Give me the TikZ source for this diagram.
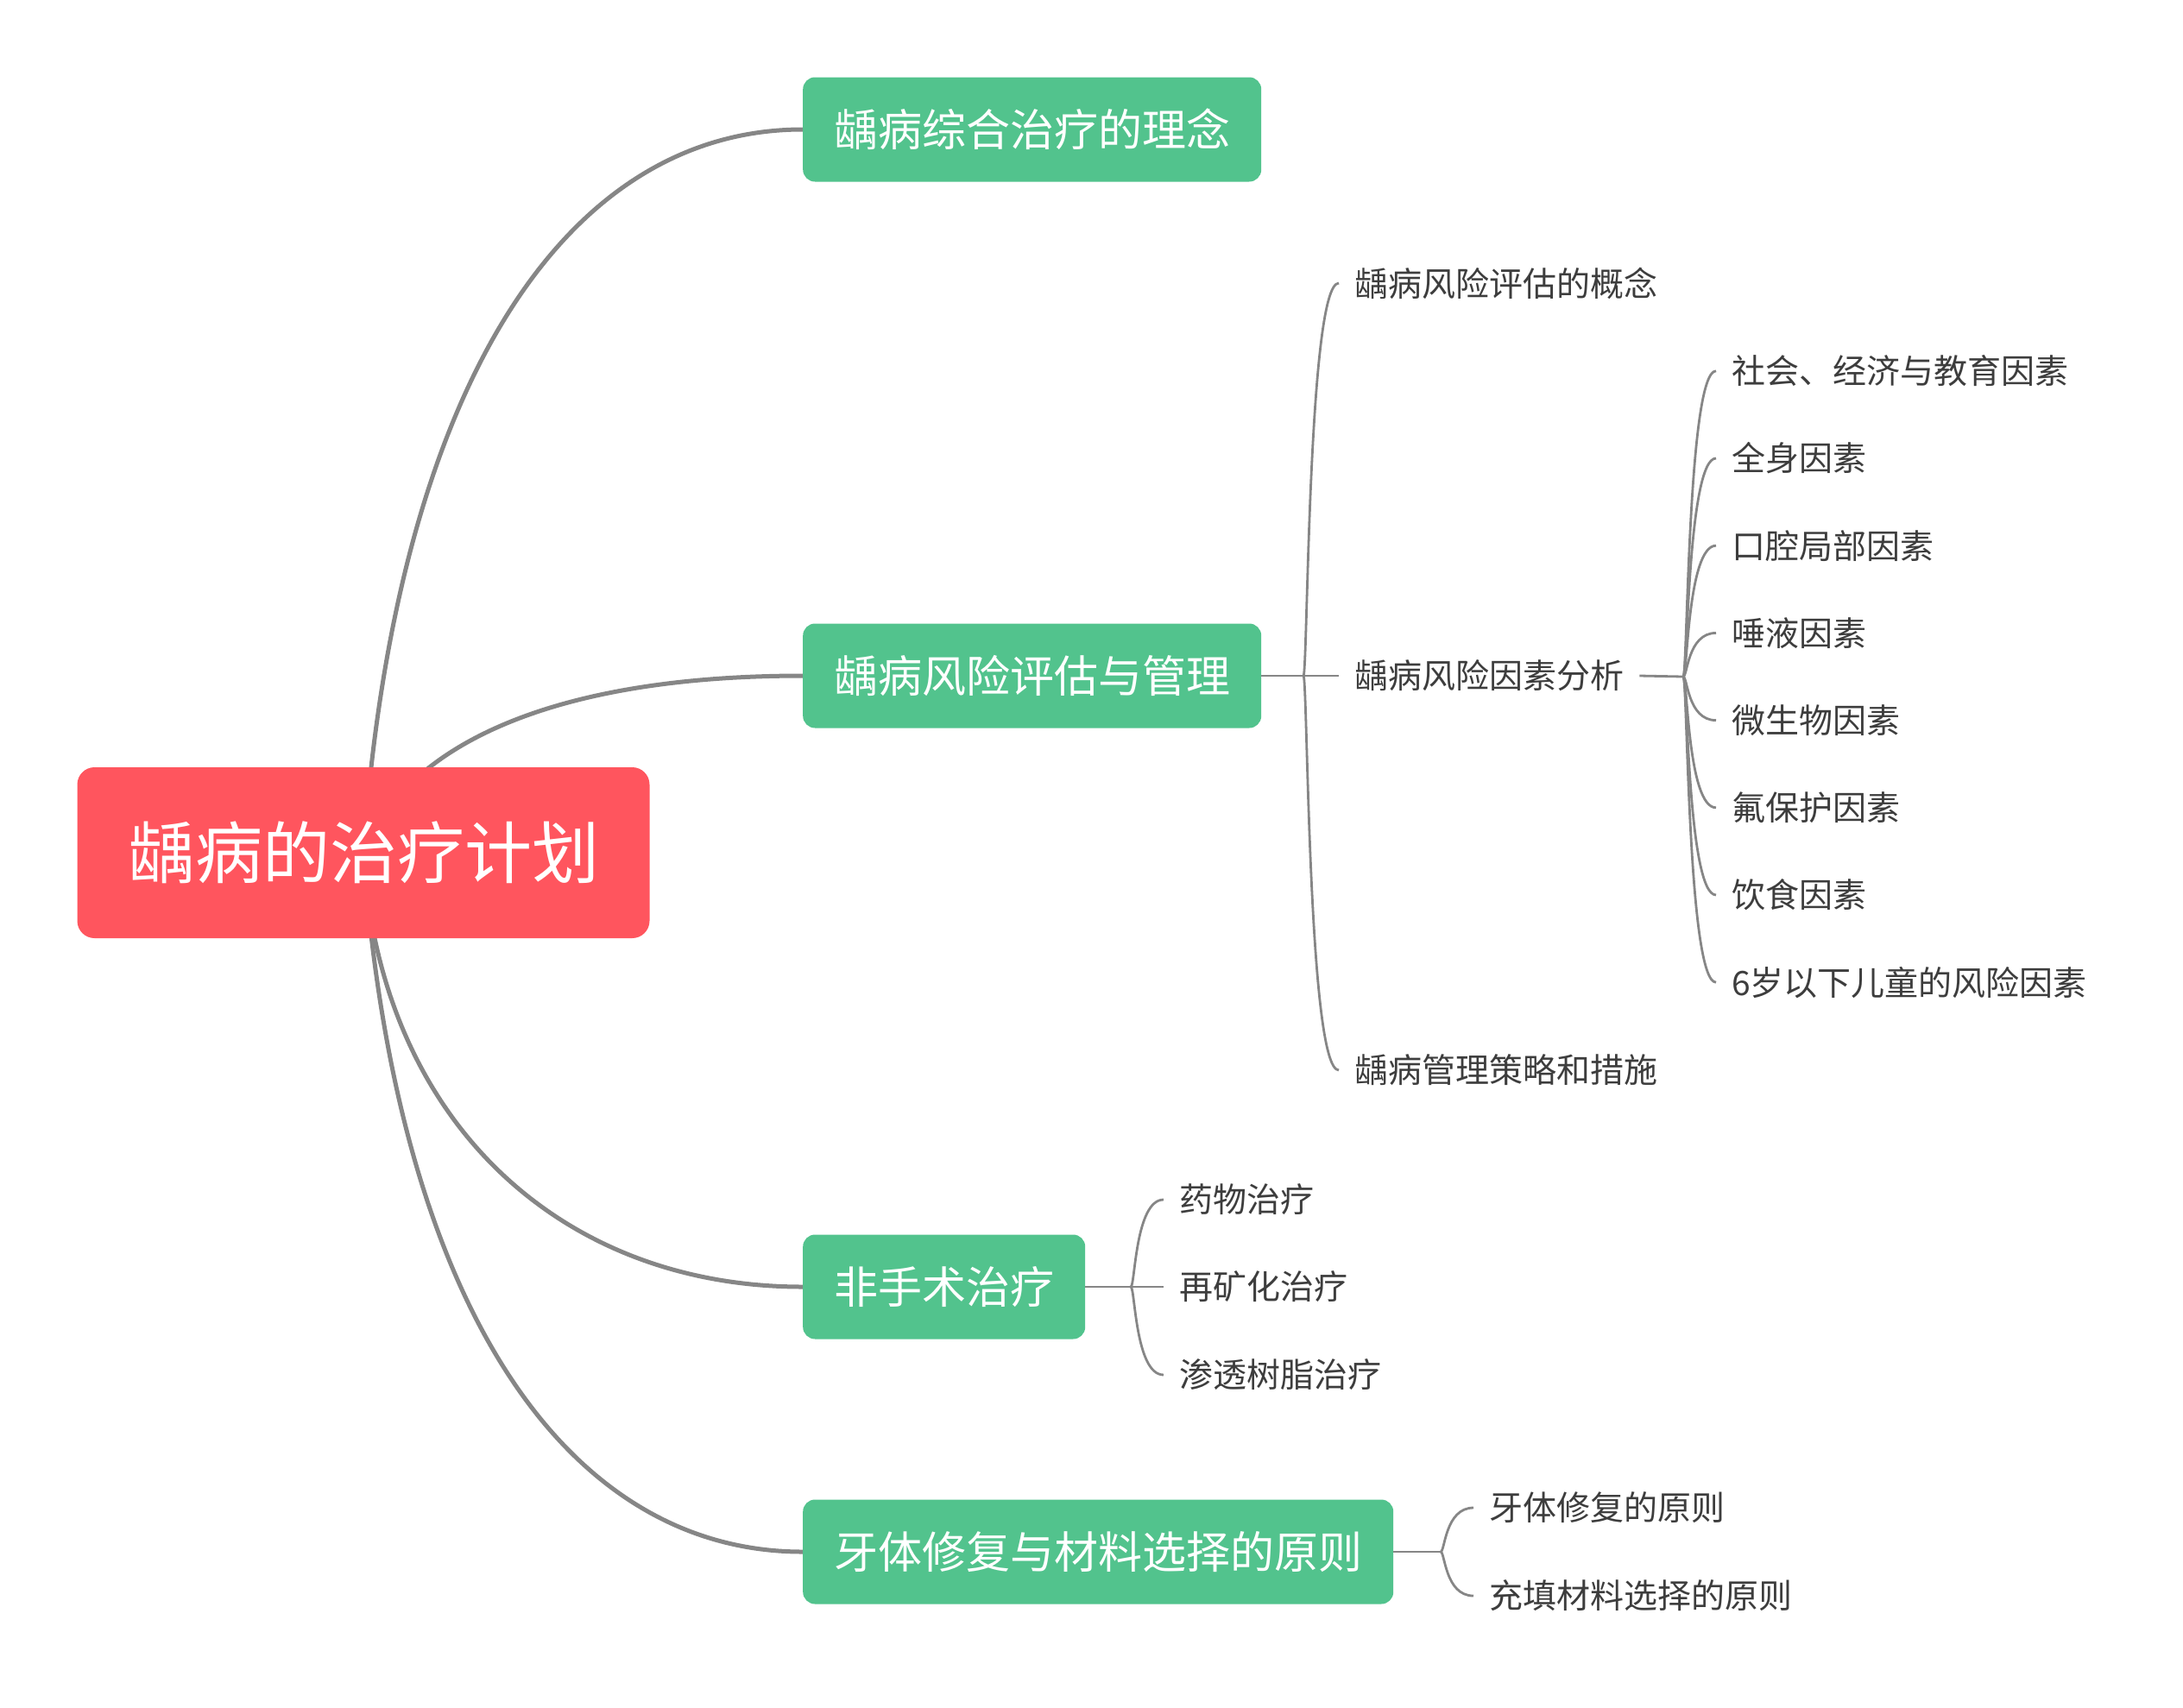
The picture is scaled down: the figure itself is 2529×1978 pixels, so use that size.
\documentclass[tikz,border=0pt]{standalone}
\usepackage{fontspec}
\setmainfont{Noto Sans CJK SC}
\usetikzlibrary{calc}
\definecolor{rootred}{HTML}{FF555E}
\definecolor{boxgreen}{HTML}{52C38D}
\definecolor{linegray}{HTML}{868686}
\definecolor{leaftext}{HTML}{3D3D3D}
\pgfdeclarelayer{bg}
\pgfsetlayers{bg,main}
\begin{document}
\begin{tikzpicture}[x=1pt,y=-1pt,
  rootbox/.style={fill=rootred, rounded corners=20pt, text=white, font=\fontsize{78}{94}\selectfont, minimum width=663pt, minimum height=198pt, inner sep=0pt},
  topicbox/.style={fill=boxgreen, rounded corners=14pt, text=white, font=\fontsize{51}{61}\selectfont, inner xsep=36pt, inner ysep=0pt, minimum height=121pt, anchor=west},
  leaf/.style={text=leaftext, font=\fontsize{39}{47}\selectfont, inner xsep=18pt, inner ysep=4pt, anchor=west},
  mainline/.style={draw=linegray, line width=5pt},
  subline/.style={draw=linegray, line width=2.8pt}
]
\useasboundingbox (0,0) rectangle (2529,1978);

% root and main topics
\node[rootbox] (root) at (421,988) {龋病的治疗计划};
\node[topicbox] (t1) at (930,150) {龋病综合治疗的理念};
\node[topicbox] (t2) at (930,783) {龋病风险评估与管理};
\node[topicbox] (t3) at (930,1491) {非手术治疗};
\node[topicbox] (t4) at (930,1798) {牙体修复与材料选择的原则};

% children of t2
\node[leaf] (l21) at (1551,328) {龋病风险评估的概念};
\node[leaf] (l22) at (1551,783) {龋病风险因素分析};
\node[leaf] (l23) at (1551,1240) {龋病管理策略和措施};

% children of l22
\node[leaf] (f1) at (1988,429.8) {社会、经济与教育因素};
\node[leaf] (f2) at (1988,531) {全身因素};
\node[leaf] (f3) at (1988,632.2) {口腔局部因素};
\node[leaf] (f4) at (1988,733.4) {唾液因素};
\node[leaf] (f5) at (1988,834.6) {微生物因素};
\node[leaf] (f6) at (1988,935.8) {氟保护因素};
\node[leaf] (f7) at (1988,1037) {饮食因素};
\node[leaf] (f8) at (1988,1138.2) {6岁以下儿童的风险因素};

% children of t3
\node[leaf] (l31) at (1348,1390) {药物治疗};
\node[leaf] (l32) at (1348,1491) {再矿化治疗};
\node[leaf] (l33) at (1348,1593) {渗透树脂治疗};

% children of t4
\node[leaf] (l41) at (1707,1747) {牙体修复的原则};
\node[leaf] (l42) at (1707,1849) {充填材料选择的原则};

% junction / spine coordinates
\coordinate (j2) at (1510,783);  \coordinate (s2) at (1515,783);
\coordinate (j22) at (1950,784); \coordinate (s22) at (1955,784);
\coordinate (j3) at (1310,1491); \coordinate (s3) at (1315,1491);
\coordinate (j4) at (1669,1798); \coordinate (s4) at (1674,1798);

\begin{pgfonlayer}{bg}
  \draw[mainline] (root.center) .. controls (459,447) and (655,150) .. (t1.west);
  \draw[mainline] (root.center) .. controls (469,866) and (635,783) .. (t2.west);
  \draw[mainline] (root.center) .. controls (439,1294) and (645,1491) .. (t3.west);
  \draw[mainline] (root.center) .. controls (459,1511) and (655,1798) .. (t4.west);
\end{pgfonlayer}

% t2 branches
\draw[subline] (t2.east) -- (j2) -- (s2 |- l22.west) -- (l22.west);
\draw[subline] (j2) .. controls (s2) and (s2 |- l21.west) .. (l21.west);
\draw[subline] (j2) .. controls (s2) and (s2 |- l23.west) .. (l23.west);

% l22 branches
\draw[subline] (l22.east) -- (j22);
\foreach \i in {1,...,8}
  \draw[subline] (j22) .. controls (s22) and (s22 |- f\i.west) .. (f\i.west);

% t3 branches
\draw[subline] (t3.east) -- (j3) -- (s3 |- l32.west) -- (l32.west);
\draw[subline] (j3) .. controls (s3) and (s3 |- l31.west) .. (l31.west);
\draw[subline] (j3) .. controls (s3) and (s3 |- l33.west) .. (l33.west);

% t4 branches
\draw[subline] (t4.east) -- (j4);
\draw[subline] (j4) .. controls (s4) and (s4 |- l41.west) .. (l41.west);
\draw[subline] (j4) .. controls (s4) and (s4 |- l42.west) .. (l42.west);
\end{tikzpicture}
\end{document}
